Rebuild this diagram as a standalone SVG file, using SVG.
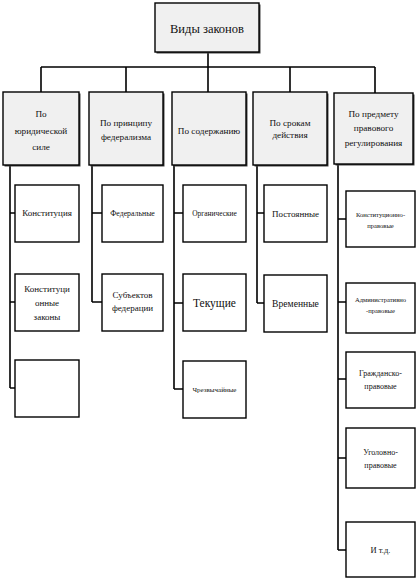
<svg xmlns="http://www.w3.org/2000/svg" width="420" height="579" viewBox="0 0 420 579" font-family="'Liberation Serif', 'Times New Roman', serif">
<style>
.bx{fill:#ffffff;stroke:#000;stroke-width:1.4}
.gr{fill:#f0f0f0;stroke:#000;stroke-width:1.4}
.sh{fill:#444}
.ln{fill:none;stroke:#000;stroke-width:1.6}
text{fill:#111;text-anchor:middle}
</style>
<rect width="420" height="579" fill="#fff"/>
<g id="connectors">
<path class="ln" d="M208 52V80M41 67H375M41 67V92M126 67V92M208 67V92M290 67V92M375 67V93"/>
<path class="ln" d="M10 165V388M10 213H15M10 302H15M10 388H15"/>
<path class="ln" d="M92 165V302M92 213H102M92 302H102"/>
<path class="ln" d="M174 165V389M174 213H183M174 303H183M174 389H183"/>
<path class="ln" d="M257 165V303M257 213H264M257 303H264"/>
<path class="ln" d="M338 164V550M338 219H346M338 302H346M338 379H346M338 458H346M338 550H346"/>
</g>
<g id="root">
<rect class="sh" x="156.5" y="4.5" width="104" height="49"/>
<rect class="gr" x="155" y="3" width="104" height="49"/>
<text x="207" y="33" font-size="12.5">Виды законов</text>
</g>
<g id="cat1">
<rect class="sh" x="4.5" y="93.5" width="76" height="73"/>
<rect class="gr" x="3" y="92" width="76" height="73"/>
<text font-size="9.2"><tspan x="41" y="117">По</tspan><tspan x="41" y="134">юридической</tspan><tspan x="41" y="150">силе</tspan></text>
</g>
<g id="cat2">
<rect class="sh" x="90.5" y="93.5" width="74" height="73"/>
<rect class="gr" x="89" y="92" width="74" height="73"/>
<text font-size="9.2"><tspan x="126" y="126">По принципу</tspan><tspan x="126" y="140">федерализма</tspan></text>
</g>
<g id="cat3">
<rect class="sh" x="173.5" y="93.5" width="74" height="73"/>
<rect class="gr" x="172" y="92" width="74" height="73"/>
<text x="209" y="134" font-size="9.2">По содержанию</text>
</g>
<g id="cat4">
<rect class="sh" x="254.5" y="93.5" width="74" height="73"/>
<rect class="gr" x="253" y="92" width="74" height="73"/>
<text font-size="9.2"><tspan x="290" y="126">По срокам</tspan><tspan x="290" y="138">действия</tspan></text>
</g>
<g id="cat5">
<rect class="sh" x="335.5" y="94.5" width="79" height="71"/>
<rect class="gr" x="334" y="93" width="79" height="71"/>
<text font-size="9.2"><tspan x="373.5" y="117">По предмету</tspan><tspan x="373.5" y="131">правового</tspan><tspan x="373.5" y="146">регулирования</tspan></text>
</g>
<g id="c1a"><rect class="bx" x="15" y="185" width="64" height="57"/><text x="47" y="216" font-size="9">Конституция</text></g>
<g id="c1b"><rect class="bx" x="15" y="274" width="64" height="57"/><text font-size="9"><tspan x="47" y="292">Конституци</tspan><tspan x="47" y="306">онные</tspan><tspan x="47" y="320">законы</tspan></text></g>
<g id="c1c"><rect class="bx" x="15" y="360" width="64" height="57"/></g>
<g id="c2a"><rect class="bx" x="102" y="185" width="61" height="57"/><text x="132.5" y="216" font-size="7.8">Федеральные</text></g>
<g id="c2b"><rect class="bx" x="102" y="274" width="61" height="57"/><text font-size="9"><tspan x="132.5" y="298">Субъектов</tspan><tspan x="132.5" y="311">федерации</tspan></text></g>
<g id="c3a"><rect class="bx" x="183" y="185" width="63" height="57"/><text x="214.5" y="216" font-size="7.4">Органические</text></g>
<g id="c3b"><rect class="bx" x="183" y="274" width="63" height="57"/><text x="214.5" y="307" font-size="11.5">Текущие</text></g>
<g id="c3c"><rect class="bx" x="183" y="361" width="63" height="57"/><text x="214.5" y="392" font-size="7">Чрезвычайные</text></g>
<g id="c4a"><rect class="bx" x="264" y="185" width="63" height="57"/><text x="295.5" y="217" font-size="9">Постоянные</text></g>
<g id="c4b"><rect class="bx" x="264" y="275" width="63" height="57"/><text x="295.5" y="307" font-size="9.6">Временные</text></g>
<g id="c5a"><rect class="bx" x="346" y="191" width="69" height="56"/><text font-size="6.6"><tspan x="380.5" y="217">Конституционно-</tspan><tspan x="380.5" y="228">правовые</tspan></text></g>
<g id="c5b"><rect class="bx" x="346" y="283" width="69" height="50"/><text font-size="6.6"><tspan x="380.5" y="302">Административно</tspan><tspan x="380.5" y="313">-правовые</tspan></text></g>
<g id="c5c"><rect class="bx" x="346" y="352" width="69" height="56"/><text font-size="8"><tspan x="380.5" y="376">Гражданско-</tspan><tspan x="380.5" y="389">правовые</tspan></text></g>
<g id="c5d"><rect class="bx" x="346" y="428" width="69" height="60"/><text font-size="8"><tspan x="380.5" y="455">Уголовно-</tspan><tspan x="380.5" y="468">правовые</tspan></text></g>
<g id="c5e"><rect class="bx" x="346" y="522" width="69" height="55"/><text x="380.5" y="553" font-size="8.5">И т.д.</text></g>
</svg>
